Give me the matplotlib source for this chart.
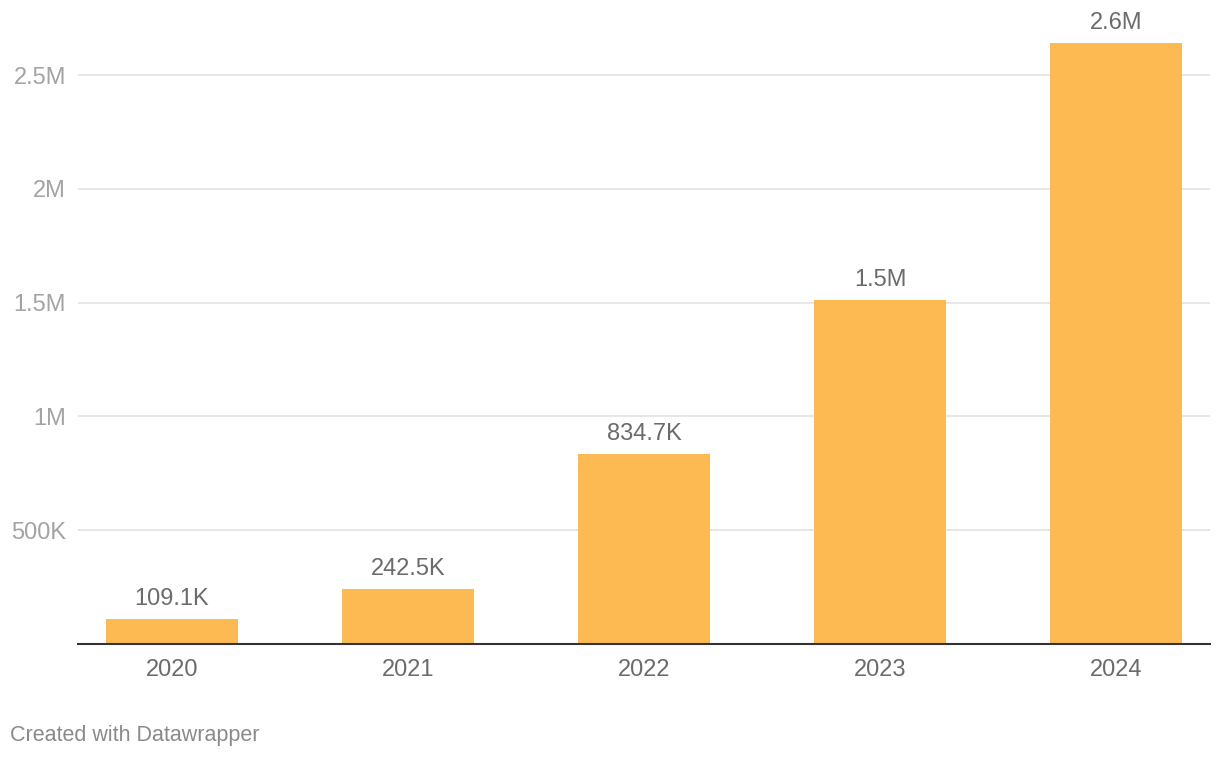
import matplotlib
matplotlib.use("Agg")
import matplotlib.pyplot as plt

plt.rcParams['font.family'] = ['Liberation Sans', 'DejaVu Sans']

years = ["2020", "2021", "2022", "2023", "2024"]
values = [109100, 242500, 834700, 1512000, 2640000]
labels = ["109.1K", "242.5K", "834.7K", "1.5M", "2.6M"]
yticks = [500000, 1000000, 1500000, 2000000, 2500000]
ytick_labels = ["500K", "1M", "1.5M", "2M", "2.5M"]

W, H = 1220, 758
fig = plt.figure(figsize=(W / 100, H / 100), dpi=100)
ymax = 2700000
top_px = 644 - ymax / 500000 * 113.8
ax = fig.add_axes([78 / W, 1 - 644 / H, (1210 - 78) / W, (644 - top_px) / H])

x = range(len(years))
ax.bar(x, values, width=0.56, color="#fdba52", zorder=2)
for xi, v, lab in zip(x, values, labels):
    ax.text(xi, v + 40000, lab, ha="center", va="bottom", fontsize=17,
            color="#6b6b6b", clip_on=False)

ax.set_xlim(-0.398, 4.398)
ax.set_ylim(0, ymax)
ax.set_yticks(yticks)
ax.set_yticklabels(ytick_labels)
ax.set_xticks(list(x))
ax.set_xticklabels(years)
ax.grid(axis="y", color="#e3e3e3", linewidth=1.2, zorder=0)
ax.tick_params(axis="y", length=0, pad=8.5, labelsize=17, labelcolor="#a3a3a3")
ax.tick_params(axis="x", length=0, pad=11, labelsize=17, labelcolor="#6b6b6b")
for s in ["top", "right", "left"]:
    ax.spines[s].set_visible(False)
ax.spines["bottom"].set_color("#333333")
ax.spines["bottom"].set_linewidth(1.5)
ax.spines["bottom"].set_zorder(3)

fig.text(10 / W, 1 - 735 / H, "Created with Datawrapper", fontsize=15.5,
         color="#8a8a8a", ha="left", va="center")

fig.savefig("out.png", dpi=100)
